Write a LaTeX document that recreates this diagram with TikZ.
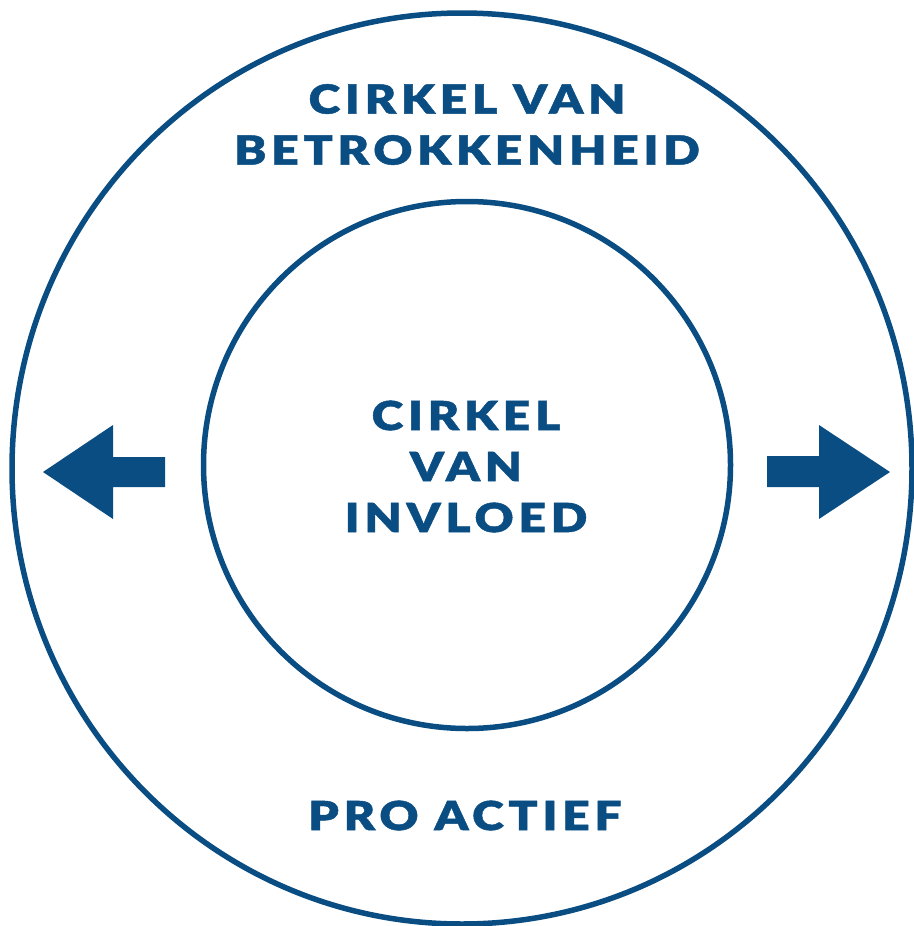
\documentclass[tikz,border=0pt]{standalone}
\usepackage{fontspec}
\setmainfont{Lato}[BoldFont={Lato Black}]
\usetikzlibrary{shapes.geometric}
\definecolor{cirkelblauw}{RGB}{10,77,130}
\begin{document}
\begin{tikzpicture}[x=1pt,y=-1pt,
    ring/.style={draw=cirkelblauw, line width=5.5pt, inner sep=0pt},
    tekst/.style={text=cirkelblauw, align=center, inner sep=0pt,
      font=\fontsize{40}{51}\selectfont\bfseries\addfontfeature{FakeStretch=1.2,FakeBold=1.2,LetterSpace=12}}]
  \useasboundingbox (0,0) rectangle (913,926);
  % de twee cirkels
  \node[ring, ellipse, minimum width=900pt, minimum height=911pt] (betrokkenheid) at (462,468.5) {};
  \node[ring, circle, minimum size=527pt] (invloed) at (467,465) {};
  % teksten
  \node[tekst] (tbetrok) at (467,124.5) {CIRKEL VAN\\BETROKKENHEID};
  \node[tekst] (tinvloed) at (466,466.5) {CIRKEL\\VAN\\INVLOED};
  \node[tekst] (tpro) at (465,815.5) {PRO ACTIEF};
  % pijlen
  \fill[cirkelblauw] (43,472) -- (113,425) -- (113,457) -- (165,457)
    -- (165,487) -- (113,487) -- (113,519) -- cycle;
  \fill[cirkelblauw] (890,472) -- (819,425) -- (819,456) -- (767,456)
    -- (767,487) -- (819,487) -- (819,519) -- cycle;
\end{tikzpicture}
\end{document}
